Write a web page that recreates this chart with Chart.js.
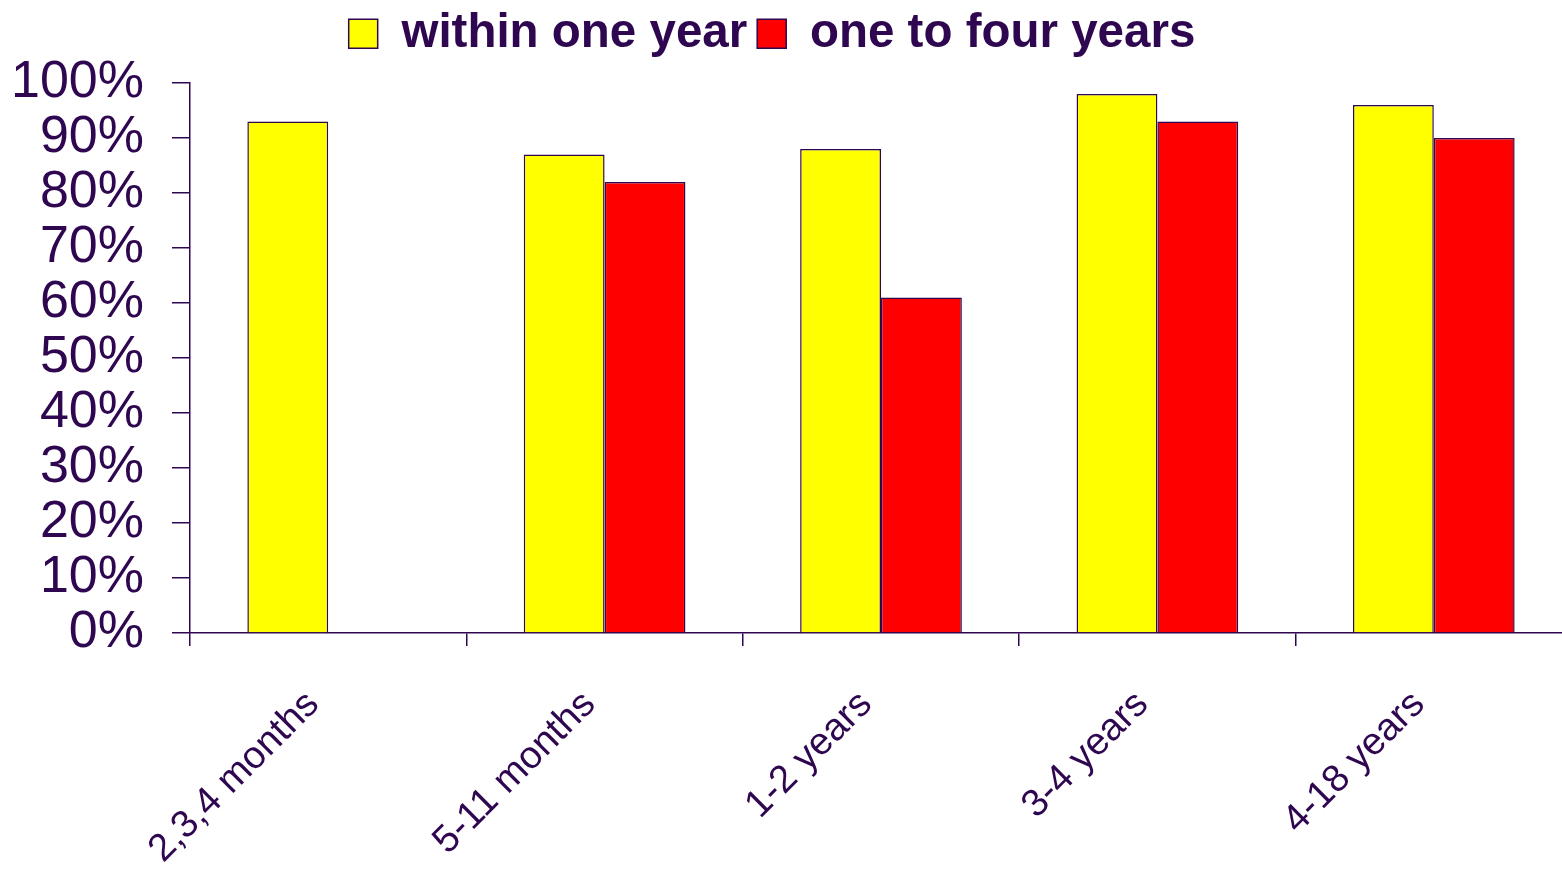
<!DOCTYPE html>
<html>
<head>
<meta charset="utf-8">
<title>Within one year / one to four years</title>
<script src="https://cdn.jsdelivr.net/npm/chart.js@4.4.1/dist/chart.umd.min.js"></script>
<style>
  html, body { margin: 0; padding: 0; background: #fff; overflow: hidden; }
  /* canvas is a bit wider than the window so the last category runs off the right edge */
  #wrap { position: absolute; left: -28px; top: 0; width: 1600px; height: 870px; }
</style>
</head>
<body>
<div id="wrap"><canvas id="chart"></canvas></div>
<script>
/* ---------- data ---------- */
const AGE_GROUPS = ["2,3,4 months", "5-11 months", "1-2 years", "3-4 years", "4-18 years"];
const WITHIN_ONE_YEAR = [93, 87, 88, 98, 96];
const ONE_TO_FOUR_YEARS = [null, 82, 61, 93, 90];
const SERIES_NAMES = ["within one year", "one to four years"];
const Y_MIN = 0, Y_MAX = 100, Y_STEP = 10;

/* ---------- look ---------- */
const INK = "#2f0650";
const FONT = "'Liberation Sans', Arial, Helvetica, sans-serif";
const LEGEND_BAND = 83; // height reserved above the plot for the legend

Chart.defaults.font.family = FONT;
Chart.defaults.color = INK;

// give the legend a taller band without moving its items down
const legendBand = {
  id: "legendBand",
  beforeLayout(chart){
    const legend = chart.legend;
    if(!legend || legend._banded) return;
    const fit = legend.fit;
    legend.fit = function(){
      fit.call(this);
      this.height = Math.max(this.height, LEGEND_BAND);
    };
    legend._banded = true;
  }
};

new Chart(document.getElementById("chart"), {
  type: "bar",
  data: {
    labels: AGE_GROUPS,
    datasets: [
      {
        label: SERIES_NAMES[0],
        data: WITHIN_ONE_YEAR,
        backgroundColor: "#ffff00",
        borderColor: INK,
        borderWidth: 1.5
      },
      {
        label: SERIES_NAMES[1],
        data: ONE_TO_FOUR_YEARS,
        backgroundColor: "#ff0000",
        borderColor: INK,
        borderWidth: 1.5
      }
    ]
  },
  plugins: [legendBand],
  options: {
    responsive: true,
    maintainAspectRatio: false,
    animation: false,
    datasets: { bar: { categoryPercentage: 0.585, barPercentage: 1 } },
    plugins: {
      tooltip: { enabled: false },
      legend: {
        position: "top",
        labels: {
          color: INK,
          boxWidth: 29,
          boxHeight: 29,
          padding: 10,
          font: { size: 47.5, weight: "bold", family: FONT }
        }
      }
    },
    scales: {
      x: {
        grid: {
          offset: true,
          drawOnChartArea: false,
          drawTicks: true,
          tickLength: 13,
          color: INK,
          lineWidth: 1.5
        },
        border: { display: true, color: INK, width: 1.5 },
        ticks: {
          color: INK,
          autoSkip: false,
          maxRotation: 45,
          minRotation: 45,
          padding: 36,
          labelOffset: -15,
          font: { size: 38.5, family: FONT }
        },
        afterFit: scale => { scale.height = 237; }
      },
      y: {
        min: Y_MIN,
        max: Y_MAX,
        grid: {
          drawOnChartArea: false,
          drawTicks: true,
          tickLength: 18,
          color: INK,
          lineWidth: 1.5
        },
        border: { display: true, color: INK, width: 1.5 },
        ticks: {
          stepSize: Y_STEP,
          autoSkip: false,
          color: INK,
          padding: 28,
          font: { size: 52, family: FONT, lineHeight: 1 },
          callback: v => v + "%"
        },
        afterFit: scale => { scale.width = 218; }
      }
    }
  }
});
</script>
</body>
</html>
